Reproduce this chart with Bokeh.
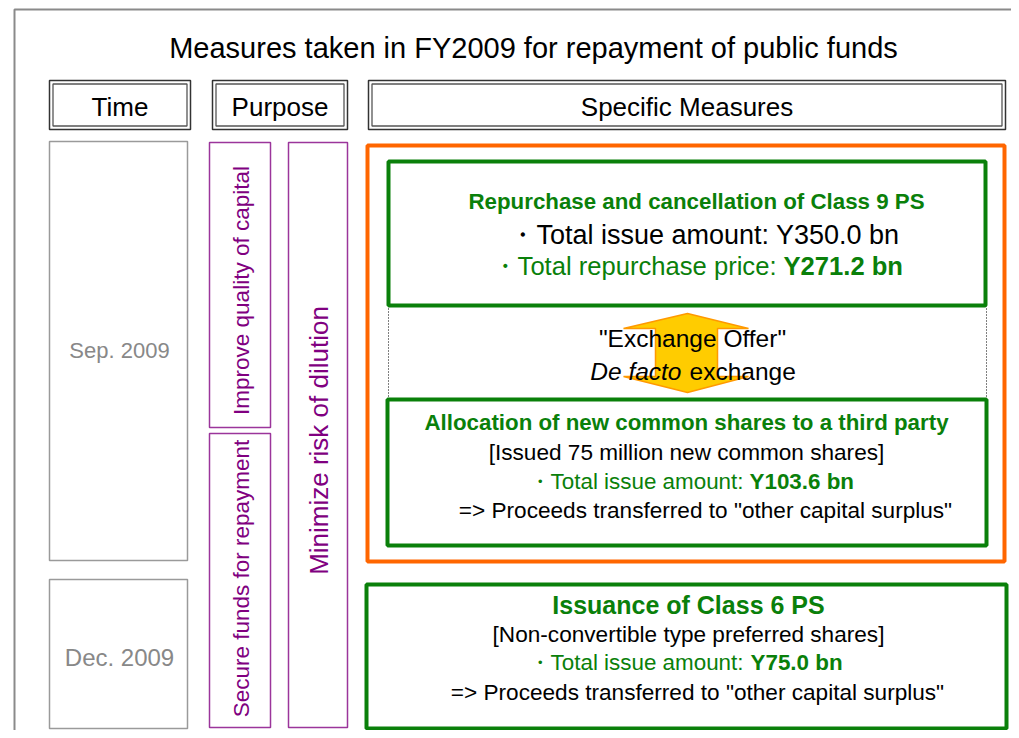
from bokeh.plotting import figure
from bokeh.models import Range1d
from bokeh.core.properties import value
from bokeh.embed import file_html
from bokeh.resources import INLINE
import math

# ---------------- content ----------------
title = "Measures taken in FY2009 for repayment of public funds"
headers = ["Time", "Purpose", "Specific Measures"]
time_labels = ["Sep. 2009", "Dec. 2009"]
purpose_labels = ["Improve quality of capital", "Secure funds for repayment", "Minimize risk of dilution"]

class9_title = "Repurchase and cancellation of Class 9 PS"
class9_issue_amount = "Y350.0 bn"
class9_repurchase_price = "Y271.2 bn"
exchange_lines = ['"Exchange Offer"', "De facto", "exchange"]
alloc_title = "Allocation of new common shares to a third party"
alloc_shares = "75 million"
alloc_amount = "Y103.6 bn"
class6_title = "Issuance of Class 6 PS"
class6_type = "Non-convertible type preferred shares"
class6_amount = "Y75.0 bn"
proceeds_note = '=> Proceeds transferred to "other capital surplus"'

# ---------------- layout (screen pixels) ----------------
W, H = 1011, 730
FONT = "Liberation Sans"
GREEN = "#0A800A"
PURPLE = "#800080"

p = figure(width=W, height=H, x_range=Range1d(0, W), y_range=Range1d(H, 0),
           output_backend="svg", toolbar_location=None, min_border=0,
           x_axis_location=None, y_axis_location=None)
p.grid.visible = False
p.outline_line_color = None
p.background_fill_color = "white"
p.border_fill_color = "white"


def box(l, r, t, b, color, width, dash="solid"):
    p.quad(left=[l], right=[r], top=[t], bottom=[b], fill_color=None,
           line_color=color, line_width=width, line_dash=dash)


def txt(x, y, s, size, color="black", style="normal", align="center", angle=0.0):
    p.text(x=[x], y=[y], text=[s], text_font=value(FONT), text_font_size=f"{size}px",
           text_color=color, text_font_style=style, text_align=align,
           text_baseline="middle", angle=angle)


# outer frame (left and top edges)
p.line(x=[14, 14, 1011], y=[740, 9, 9], line_color="#8a8a8a", line_width=2)

# title
txt(533, 47, title, 29)

# header double boxes
header_boxes = [(49, 190), (212, 347), (368, 1005)]
for (l, r), lab in zip(header_boxes, headers):
    box(l, r, 80, 129, "#333333", 1.5)
    box(l + 3.5, r - 3.5, 83.5, 125.5, "#555555", 1.3)
    txt((l + r) / 2, 106, lab, 26)

# time boxes
time_boxes = [(49, 187, 141, 560), (49, 187, 579, 728)]
time_text_y = [350, 657]
time_sizes = [22, 24]
for (l, r, t, b), lab, ty, fs in zip(time_boxes, time_labels, time_text_y, time_sizes):
    box(l, r, t, b, "#9a9a9a", 1.5)
    txt((l + r) / 2 + 1, ty, lab, fs, color="#888888")

# purpose boxes with vertical text
purpose_boxes = [(209, 270, 142, 427), (209, 270, 433, 727), (288, 347, 142, 727)]
purpose_text = [(241, 290, 22.5), (241, 578, 22.5), (318, 440, 26)]
for (l, r, t, b), lab, (tx, ty, fs) in zip(purpose_boxes, purpose_labels, purpose_text):
    box(l, r, t, b, "#9B359B", 1.5)
    txt(tx, ty, lab, fs, color=PURPLE, angle=math.pi / 2)

# orange group frame
box(367, 1004, 145, 561, "#FF6600", 4)

# dotted connectors between the two September boxes
p.segment(x0=[388, 986], y0=[305, 305], x1=[388, 986], y1=[399, 399],
          line_color="black", line_width=1, line_dash="1 2")

# double-headed arrow
ax = [687, 748, 717, 717, 748, 687, 623, 655, 655, 623]
ay = [313, 328, 328, 376, 376, 392, 376, 376, 328, 328]
p.patch(x=ax, y=ay, fill_color="#FFCC00", line_color="#FF9900", line_width=1.5)

# exchange text
txt(692, 338, exchange_lines[0], 24.5)
txt(681, 371, exchange_lines[1], 24.5, style="italic", align="right")
txt(689, 371, exchange_lines[2], 24.5, align="left")

# box 1: Class 9 PS repurchase
box(388, 985, 161, 305, GREEN, 4)
txt(696, 201, class9_title, 22.3, color=GREEN, style="bold")
txt(704, 234, "\u30fbTotal issue amount: " + class9_issue_amount, 27)
txt(776, 265, "\u30fbTotal repurchase price:", 25.6, color=GREEN, align="right")
txt(783, 265, class9_repurchase_price, 25.6, color=GREEN, style="bold", align="left")

# box 2: allocation to third party
box(387, 986, 399, 545, GREEN, 4)
txt(686, 422, alloc_title, 22.3, color=GREEN, style="bold")
txt(686, 452, f"[Issued {alloc_shares} new common shares]", 22.6)
txt(743, 481, "\u30fbTotal issue amount:", 22.4, color=GREEN, align="right")
txt(749, 481, alloc_amount, 22.4, color=GREEN, style="bold", align="left")
txt(705, 510, proceeds_note, 22.6)

# box 3: Class 6 PS issuance
box(366, 1006, 584, 728, GREEN, 4)
txt(688, 604, class6_title, 25, color=GREEN, style="bold")
txt(688, 634, f"[{class6_type}]", 22.6)
txt(743, 662, "\u30fbTotal issue amount:", 22.4, color=GREEN, align="right")
txt(750, 662, class6_amount, 22.4, color=GREEN, style="bold", align="left")
txt(697, 692, proceeds_note, 22.6)

open("out.html", "w").write(file_html(p, INLINE))
